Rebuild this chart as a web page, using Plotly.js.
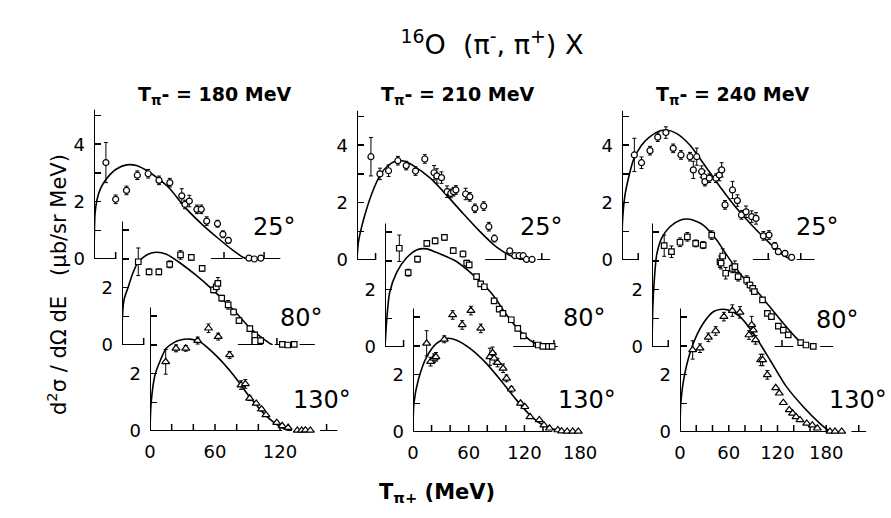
<!DOCTYPE html>
<html><head><meta charset="utf-8">
<script src="https://cdn.plot.ly/plotly-3.0.1.min.js"></script>
<style>html,body{margin:0;padding:0;background:#fff}#chart{width:891px;height:518px}</style>
</head><body><div id="chart"></div><script>
// ---------- data (T_pi+ in MeV, cross section in microbarn/sr MeV) ----------
const incident = [180, 210, 240];
const angles = ['25°', '80°', '130°'];

// 180 MeV
const x180_25 = [11, 20, 30, 40, 50, 60, 70, 81, 84, 88, 95, 99, 104, 114, 119, 124, 143, 148, 154];
const y180_25 = [3.36, 2.08, 2.39, 2.92, 2.97, 2.74, 2.66, 2.2, 1.9, 2.02, 1.73, 1.73, 1.32, 1.23, 0.86, 0.65, 0.03, 0.0, 0.03];
const e180_25 = [0.7, 0.15, 0.15, 0.15, 0.15, 0.15, 0.15, 0.25, 0.15, 0.2, 0.15, 0.15, 0.15, 0.12, 0.12, 0.1, 0, 0, 0];
const cx180_25 = [0, 1, 3, 6, 10, 15, 20, 30, 40, 50, 60, 70, 84, 100, 114, 129, 138, 141];
const cy180_25 = [0, 1.6, 2.1, 2.45, 2.72, 2.95, 3.12, 3.28, 3.25, 3.05, 2.78, 2.45, 1.8, 1.2, 0.74, 0.28, 0.05, 0];

const x180_80 = [15, 25, 34, 44, 54, 64, 74, 84.5, 87, 88.5, 92, 98, 103, 108, 118, 122.5, 128, 148, 153, 159];
const y180_80 = [2.9, 2.55, 2.55, 2.81, 3.14, 3.05, 2.67, 1.92, 2.03, 2.15, 1.63, 1.4, 1.15, 0.85, 0.57, 0.35, 0.15, 0.02, 0.0, 0.02];
const e180_80 = [0.48, 0.1, 0.1, 0.12, 0.15, 0.1, 0.1, 0.1, 0.15, 0.2, 0.1, 0.15, 0.1, 0.08, 0.08, 0.06, 0.05, 0, 0, 0];
const cx180_80 = [0, 0.4, 2, 6, 10, 15, 24, 32, 41, 52, 68, 83, 103, 118.5, 134, 139];
const cy180_80 = [0, 1.0, 1.6, 2.05, 2.5, 2.9, 3.16, 3.23, 3.16, 2.9, 2.44, 1.95, 1.22, 0.58, 0.12, 0];

const x180_130 = [14.5, 24, 33, 44, 54, 63, 73.5, 84, 88, 92, 98, 103, 107, 117, 122, 127.5, 136, 140, 143.5, 148];
const y180_130 = [2.41, 2.88, 2.88, 3.15, 3.58, 3.29, 2.65, 1.6, 1.64, 1.14, 0.96, 0.76, 0.56, 0.29, 0.18, 0.12, 0.02, 0.02, 0.03, 0.02];
const e180_130 = [0.43, 0.12, 0.1, 0.12, 0.15, 0.12, 0.12, 0.15, 0.15, 0.08, 0.06, 0.06, 0.05, 0.05, 0.05, 0, 0, 0, 0, 0];
const cx180_130 = [0, 1, 4.6, 10, 15, 22, 28, 37, 46, 62, 77, 93, 108, 120, 128, 131];
const cy180_130 = [0, 0.96, 1.95, 2.5, 2.88, 3.08, 3.17, 3.2, 3.11, 2.59, 1.95, 1.14, 0.5, 0.15, 0.02, 0];

// 210 MeV
const x210_25 = [15, 24.7, 34, 44, 53, 63, 73, 83, 86, 91, 97, 101, 104, 106.5, 117, 121.5, 127, 136.5, 142, 148, 164.5, 170, 174.5, 179, 182.5, 188.5];
const y210_25 = [3.6, 3.0, 3.11, 3.46, 3.29, 3.1, 3.52, 3.04, 2.93, 2.87, 2.38, 2.32, 2.38, 2.44, 2.3, 2.2, 1.8, 1.88, 1.16, 0.75, 0.32, 0.15, 0.15, 0.15, 0.02, 0.02];
const e210_25 = [0.67, 0.2, 0.2, 0.15, 0.15, 0.15, 0.15, 0.25, 0.25, 0.2, 0.2, 0.15, 0.15, 0.15, 0.2, 0.15, 0.15, 0.15, 0.15, 0.12, 0, 0, 0, 0, 0, 0];
const cx210_25 = [0, 1.4, 7, 16, 25, 34, 43, 52, 61, 79, 96.5, 114, 132.5, 150, 168, 179];
const cy210_25 = [0, 0.6, 1.4, 2.32, 2.96, 3.31, 3.46, 3.43, 3.28, 2.85, 2.26, 1.63, 0.99, 0.46, 0.11, 0];

const x210_80 = [15.4, 25, 35, 45, 54, 64, 73.5, 84, 88, 90.7, 98.6, 103, 107, 117.5, 123, 127, 136, 143, 149, 165, 170, 176, 180];
const y210_80 = [3.44, 2.59, 3.06, 3.61, 3.7, 3.82, 3.36, 3.24, 2.92, 2.86, 2.45, 2.2, 2.1, 1.61, 1.32, 1.17, 0.95, 0.65, 0.39, 0.07, 0.02, 0.02, 0.02];
const e210_80 = [0.46, 0.12, 0.1, 0.1, 0.1, 0.1, 0.1, 0.1, 0.1, 0.1, 0.05, 0.05, 0.05, 0.05, 0.05, 0.05, 0.05, 0.05, 0.05, 0, 0, 0, 0];
const cx210_80 = [0, 2, 5, 12.6, 23, 34, 45, 55, 66, 77, 90, 100, 109, 120, 127, 141, 156, 165, 170];
const cy210_80 = [0, 1.0, 1.9, 2.6, 3.1, 3.38, 3.42, 3.3, 3.15, 2.98, 2.65, 2.35, 2.08, 1.65, 1.3, 0.71, 0.24, 0.07, 0];

const x210_130 = [14.7, 19, 22.6, 24.7, 33.7, 42.7, 53, 62.4, 73, 82.8, 85.7, 87.5, 91, 97, 100.7, 106, 115.8, 120.4, 126, 136, 141, 147, 156, 160, 166, 172, 178];
const y210_130 = [3.09, 2.45, 2.57, 2.62, 3.23, 4.08, 3.73, 4.23, 3.61, 2.62, 2.76, 2.57, 2.42, 2.22, 1.87, 1.49, 1.0, 0.88, 0.53, 0.42, 0.24, 0.13, 0.07, 0.03, 0.02, 0.02, 0.02];
const e210_130 = [0.44, 0.15, 0.15, 0.15, 0.12, 0.15, 0.15, 0.15, 0.15, 0.3, 0.2, 0.2, 0.15, 0.15, 0.12, 0.1, 0.05, 0.05, 0.05, 0, 0, 0, 0, 0, 0, 0, 0];
const cx210_130 = [0, 1, 5.7, 14.7, 25.4, 36, 47, 61, 79, 97, 111.5, 126, 140, 154.5, 162];
const cy210_130 = [0, 1.0, 1.81, 2.62, 3.09, 3.26, 3.2, 2.92, 2.39, 1.7, 1.11, 0.59, 0.24, 0.07, 0];

// 240 MeV
const x240_25 = [15.2, 24, 34.5, 44, 54, 63, 72.6, 83.7, 87.8, 92, 98, 101, 102, 107.5, 115.7, 119.8, 122.7, 126.8, 136, 142, 147, 152.6, 159.6, 165, 174, 181, 188, 192.4, 200.6, 208.8];
const y240_25 = [3.66, 3.39, 3.81, 4.28, 4.44, 3.89, 3.66, 3.6, 3.14, 3.6, 3.08, 2.9, 2.73, 2.85, 2.85, 2.96, 3.14, 1.92, 2.44, 2.07, 1.57, 1.68, 1.51, 1.45, 0.84, 0.87, 0.49, 0.29, 0.23, 0.09];
const e240_25 = [0.58, 0.2, 0.15, 0.15, 0.2, 0.15, 0.15, 0.15, 0.3, 0.3, 0.2, 0.2, 0.15, 0.15, 0.15, 0.2, 0.25, 0.15, 0.3, 0.2, 0.15, 0.2, 0.2, 0.2, 0.15, 0.15, 0.12, 0.1, 0.1, 0];
const cx240_25 = [0, 0.5, 4, 14, 24, 34.5, 47, 55, 67, 83.7, 100, 120.6, 141, 161.6, 182, 198.5, 205, 208];
const cy240_25 = [0, 1.28, 2.32, 3.48, 4.0, 4.3, 4.5, 4.53, 4.41, 4.0, 3.37, 2.55, 1.8, 1.16, 0.58, 0.17, 0.06, 0];

const x240_80 = [15, 24, 34.5, 43.5, 53.7, 63, 73.5, 83.7, 85, 87, 90.7, 98.8, 102, 106, 116.5, 120.6, 124, 126, 136, 142, 147, 155.5, 161.6, 167.7, 183, 189.5, 198.5];
const y240_80 = [3.53, 3.32, 3.65, 3.84, 3.61, 3.55, 3.9, 2.97, 2.92, 3.17, 2.57, 2.74, 2.8, 2.45, 2.33, 2.16, 2.04, 1.93, 1.64, 1.17, 1.06, 0.73, 0.59, 0.42, 0.15, 0.07, 0.02];
const e240_80 = [0.37, 0.2, 0.15, 0.15, 0.12, 0.12, 0.15, 0.2, 0.2, 0.25, 0.2, 0.15, 0.2, 0.15, 0.15, 0.1, 0.1, 0.1, 0.05, 0.05, 0.05, 0, 0, 0, 0, 0, 0];
const cx240_80 = [0, 1, 3, 5.7, 12, 22, 34.5, 46.8, 63, 79.6, 92, 110, 129, 145, 161.6, 178, 186, 190];
const cy240_80 = [0, 1.4, 2.4, 3.2, 3.8, 4.19, 4.42, 4.45, 4.25, 3.73, 3.2, 2.5, 1.95, 1.4, 0.83, 0.3, 0.07, 0];

const x240_130 = [15.6, 24.6, 34.9, 43.9, 54, 64.4, 73.8, 84.9, 88.2, 90.2, 93, 99.3, 101.7, 107.5, 117.8, 122.2, 127.2, 134.5, 138.6, 142.8, 147.7, 156, 162.8, 169, 184.6, 190.8, 199];
const y240_130 = [2.86, 2.92, 3.3, 3.52, 4.02, 4.23, 4.17, 3.38, 3.73, 3.55, 3.21, 2.51, 2.51, 1.99, 1.54, 1.35, 1.02, 0.77, 0.65, 0.53, 0.42, 0.3, 0.24, 0.13, 0.02, 0.02, 0.02];
const e240_130 = [0.32, 0.15, 0.15, 0.15, 0.15, 0.2, 0.2, 0.15, 0.3, 0.2, 0.15, 0.2, 0.2, 0.15, 0, 0, 0, 0, 0, 0, 0, 0, 0, 0, 0, 0, 0];
const cx240_130 = [0, 1, 6, 16.4, 28.7, 41, 49, 59.5, 73.8, 90.2, 110.8, 131, 151.7, 172, 182, 186];
const cy240_130 = [0, 1.0, 2.05, 3.09, 3.79, 4.19, 4.27, 4.25, 4.02, 3.44, 2.51, 1.58, 0.88, 0.3, 0.07, 0];

const seriesX = [x180_25, x180_80, x180_130, x210_25, x210_80, x210_130, x240_25, x240_80, x240_130];
const seriesY = [y180_25, y180_80, y180_130, y210_25, y210_80, y210_130, y240_25, y240_80, y240_130];
const seriesE = [e180_25, e180_80, e180_130, e210_25, e210_80, e210_130, e240_25, e240_80, e240_130];
const curveX = [cx180_25, cx180_80, cx180_130, cx210_25, cx210_80, cx210_130, cx240_25, cx240_80, cx240_130];
const curveY = [cy180_25, cy180_80, cy180_130, cy210_25, cy210_80, cy210_130, cy240_25, cy240_80, cy240_130];

// x-axis pieces drawn in the scan (MeV): visible line pieces and tick marks
const axisPieces = [
  [[0,20],[108,137],[156,172]], [[0,20],[107,130],[141,145],[164,178]], [[0,122],[157,173]],
  [[0,20],[138,160],[194,208]], [[0,20],[138,162],[178,186]], [[0,150]],
  [[0,20],[161,182],[215,237]], [[0,20],[151,174],[207,223]], [[0,183],[211,229]]
];
const axisTicks = [
  [20,120,157], [20,120,143], [20,40,60,80,100,120,163],
  [20,160,199], [20,160,182], [20,40,60,80,100,120,140],
  [20,180,220], [20,160], [20,40,60,80,100,120,140,160,180,220]
];

// ---------- layout geometry ----------
const W = 891, H = 518, SPAN = 195, PXU = 28.7, YMAX = 5.6;
const origins = [[94,259],[122,345],[150,431],[357,260],[385,347],[413,432],[622,260],[652,347],[680,432]];
const angleLabelPos = [[274,227],[301,318],[322,400],[541,227],[584,318],[587,400],[817,227],[837,320],[889,400]];
const headerPos = [[215,96],[458,96],[733,96]];
const symbols = ['circle','square','triangle-up'];
const msize = [6, 5.5, 7];
const FONT = 'DejaVu Sans, Liberation Sans, sans-serif';

const traces = [];
const layout = {
  width: W, height: H, margin: {l:0, r:0, t:0, b:0},
  paper_bgcolor: '#fff', plot_bgcolor: 'rgba(0,0,0,0)',
  showlegend: false,
  font: {family: FONT, color: '#000'},
  title: {text: '<sup>16</sup>O  (π<sup>-</sup>, π<sup>+</sup>) X', x: 492/W, xanchor: 'center', y: 1 - 45/H, yanchor: 'middle', yref: 'container', font: {size: 27, family: FONT}},
  shapes: [], annotations: []
};

for (let i = 0; i < 9; i++) {
  const col = Math.floor(i / 3), row = i % 3;
  const n = i === 0 ? '' : String(i + 1);
  const xa = 'x' + n, ya = 'y' + n;
  const T = incident[col];
  const [ox, oy] = origins[i];
  const ytop = row === 0 ? 5.2 : 4.3;
  layout['xaxis' + n] = {
    domain: [ox / W, (ox + SPAN) / W], range: [0, T], anchor: ya,
    showgrid: false, zeroline: false, showline: false, ticks: '',
    showticklabels: row === 2,
    tickmode: 'array', tickvals: col === 0 ? [0,60,120] : [0,60,120,180],
    tickfont: {size: 18, family: FONT}, ticklabelstandoff: 8, fixedrange: true
  };
  layout['yaxis' + n] = {
    domain: [(H - oy) / H, (H - oy + YMAX * PXU) / H], range: [0, YMAX], anchor: xa,
    showgrid: false, zeroline: false, showline: false,
    ticks: 'inside', ticklen: 7, tickwidth: 1.5, tickcolor: '#000',
    tickmode: 'array', tickvals: row === 0 ? [0,2,4] : [0,2],
    minor: {tickmode: 'array', tickvals: row === 0 ? [1,3,5] : [1,3,4], ticks: 'inside', ticklen: 7, tickwidth: 1.5, tickcolor: '#000', showgrid: false},
    tickfont: {size: 18, family: FONT}, ticklabelstandoff: 8, fixedrange: true
  };
  // y-axis line (only up to the drawn height of the frame)
  layout.shapes.push({
    type: 'line', xref: xa, yref: ya, x0: 0, x1: 0, y0: 0, y1: ytop, layer: 'below',
    line: {color: '#000', width: 2}
  });
  axisPieces[i].forEach(([a, b]) => layout.shapes.push({
    type: 'line', xref: xa, yref: ya, x0: a, x1: b, y0: 0, y1: 0, layer: 'below',
    line: {color: '#000', width: 2}
  }));
  axisTicks[i].forEach(t => layout.shapes.push({
    type: 'line', xref: xa, yref: ya, x0: t, x1: t, y0: 0, y1: 7 / PXU, layer: 'below',
    line: {color: '#000', width: 1.5}
  }));
  traces.push({
    x: curveX[i], y: curveY[i], xaxis: xa, yaxis: ya, mode: 'lines',
    line: {color: '#000', width: 1.6, shape: 'spline', smoothing: 0.7}, hoverinfo: 'skip'
  });
  traces.push({
    x: seriesX[i], y: seriesY[i], xaxis: xa, yaxis: ya, mode: 'markers', cliponaxis: false,
    marker: {symbol: symbols[row], size: msize[row], color: '#fff', line: {color: '#000', width: 1.2}},
    error_y: {type: 'data', array: seriesE[i], visible: true, color: '#000', thickness: 1, width: 2}
  });
  const [lx, ly] = angleLabelPos[i];
  layout.annotations.push({
    text: angles[row], xref: 'paper', yref: 'paper', x: lx / W, y: 1 - ly / H,
    xanchor: i === 8 ? 'right' : 'center', yanchor: 'middle', showarrow: false, font: {size: 24, family: FONT}
  });
}
incident.forEach((T, c) => {
  const [hx, hy] = headerPos[c];
  layout.annotations.push({
    text: '<b>T<sub>π</sub>- = ' + T + ' MeV</b>', xref: 'paper', yref: 'paper', x: hx / W, y: 1 - hy / H,
    xanchor: 'center', yanchor: 'middle', showarrow: false, font: {size: 19, family: FONT}
  });
});
layout.annotations.push({
  text: '<b>T<sub>π+</sub> (MeV)</b>', xref: 'paper', yref: 'paper', x: 437 / W, y: 1 - 493 / H,
  xanchor: 'center', yanchor: 'middle', showarrow: false, font: {size: 21, family: FONT}
});
layout.annotations.push({
  text: 'd<sup>2</sup>σ / dΩ dE   (μb/sr MeV)', xref: 'paper', yref: 'paper', x: 57 / W, y: 1 - 285 / H,
  xanchor: 'center', yanchor: 'middle', showarrow: false, textangle: -90, font: {size: 21, family: FONT}
});

Plotly.newPlot('chart', traces, layout, {staticPlot: true, displayModeBar: false});
</script></body></html>
